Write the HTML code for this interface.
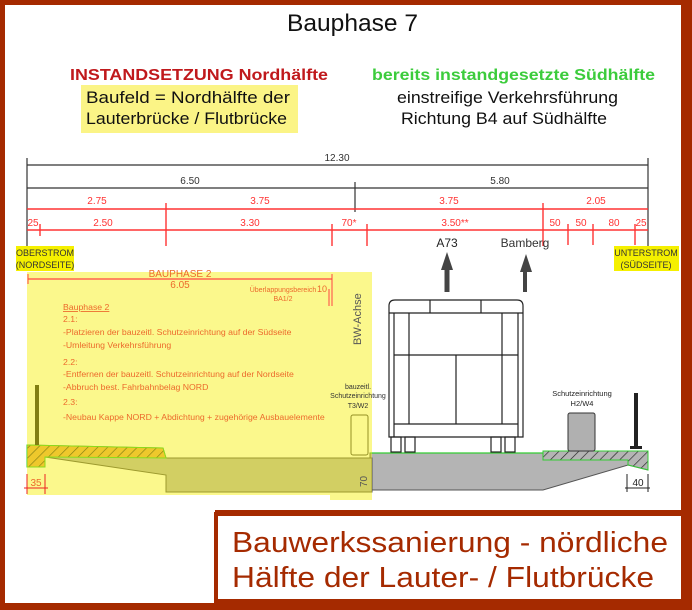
<!DOCTYPE html>
<html><head><meta charset="utf-8"><style>
html,body{margin:0;padding:0;background:#fff}
svg{display:block}
text{font-family:"Liberation Sans",sans-serif}
</style></head><body>
<svg width="692" height="610" viewBox="0 0 692 610" xmlns="http://www.w3.org/2000/svg">
<defs>
<pattern id="h" width="7" height="7" patternUnits="userSpaceOnUse" patternTransform="rotate(45)">
<line x1="0" y1="0" x2="0" y2="7" stroke="#222" stroke-width="1.3"/></pattern>
</defs>
<rect width="692" height="610" fill="#a52a00"/>
<rect x="5" y="5" width="676" height="505" fill="#fff"/>
<rect x="5" y="510" width="210" height="93" fill="#fff"/>
<!-- title -->
<text x="287" y="31" font-size="24" textLength="131" lengthAdjust="spacingAndGlyphs" fill="#111">Bauphase 7</text>
<text x="70" y="80" font-size="16" font-weight="bold" textLength="258" lengthAdjust="spacingAndGlyphs" fill="#c0191c">INSTANDSETZUNG Nordhälfte</text>
<rect x="81" y="85" width="217" height="48" fill="#fbf486"/>
<text x="86" y="103" font-size="16.5" textLength="204" lengthAdjust="spacingAndGlyphs" fill="#111">Baufeld  =  Nordhälfte der</text>
<text x="86" y="124" font-size="16.5" textLength="201" lengthAdjust="spacingAndGlyphs" fill="#111">Lauterbrücke / Flutbrücke</text>
<text x="372" y="80" font-size="16" font-weight="bold" textLength="283" lengthAdjust="spacingAndGlyphs" fill="#3ccc3c">bereits instandgesetzte Südhälfte</text>
<text x="397" y="103" font-size="16.5" textLength="221" lengthAdjust="spacingAndGlyphs" fill="#111">einstreifige Verkehrsführung</text>
<text x="401" y="124" font-size="16.5" textLength="206" lengthAdjust="spacingAndGlyphs" fill="#111">Richtung B4 auf Südhälfte</text>
<!-- dims black -->
<g stroke="#333" stroke-width="1.2">
<line x1="27" y1="165" x2="648" y2="165"/><line x1="27" y1="188" x2="648" y2="188"/>
<line x1="27" y1="158" x2="27" y2="246"/><line x1="648" y1="158" x2="648" y2="246"/>
<line x1="355" y1="182" x2="355" y2="212"/>
</g>
<g font-size="10" fill="#333" text-anchor="middle">
<text x="337" y="161">12.30</text><text x="190" y="184">6.50</text><text x="500" y="184">5.80</text>
</g>
<g stroke="#f33" stroke-width="1.4">
<line x1="27" y1="209" x2="648" y2="209"/><line x1="27" y1="230" x2="648" y2="230"/>
<line x1="166" y1="203" x2="166" y2="246"/><line x1="543" y1="203" x2="543" y2="246"/>
<line x1="40" y1="224" x2="40" y2="236"/><line x1="332" y1="224" x2="332" y2="246"/>
<line x1="367" y1="224" x2="367" y2="246"/><line x1="568" y1="224" x2="568" y2="245"/>
<line x1="593" y1="224" x2="593" y2="245"/><line x1="635" y1="224" x2="635" y2="245"/>
</g>
<g font-size="10" fill="#f33" text-anchor="middle">
<text x="97" y="204">2.75</text><text x="260" y="204">3.75</text><text x="449" y="204">3.75</text><text x="596" y="204">2.05</text>
<text x="33" y="226">25</text><text x="103" y="226">2.50</text><text x="250" y="226">3.30</text><text x="349" y="226">70*</text>
<text x="455" y="226">3.50**</text><text x="555" y="226">50</text><text x="581" y="226">50</text><text x="614" y="226">80</text><text x="641" y="226">25</text>
</g>
<rect x="16" y="246" width="58" height="25" fill="#f5f000"/>
<text x="45" y="256" font-size="9" text-anchor="middle" fill="#333">OBERSTROM</text>
<text x="45" y="268" font-size="9" text-anchor="middle" fill="#333">(NORDSEITE)</text>
<rect x="614" y="246" width="65" height="25" fill="#f5f000"/>
<text x="646" y="256" font-size="9" text-anchor="middle" fill="#333">UNTERSTROM</text>
<text x="646" y="268" font-size="9" text-anchor="middle" fill="#333">(SÜDSEITE)</text>
<!-- arrows -->
<text x="447" y="247" font-size="12" text-anchor="middle" fill="#222">A73</text>
<text x="525" y="247" font-size="12" text-anchor="middle" fill="#333">Bamberg</text>
<rect x="444.5" y="268" width="5" height="24" fill="#444"/><polygon points="441,270 447,252 453,270" fill="#444"/>
<rect x="523" y="268" width="4" height="24" fill="#444"/><polygon points="520,272 526,254 532,272" fill="#444"/>
<!-- right deck -->
<polygon points="370,453 543,453 543,451 648,451 648,470 628,465 543,490 370,490" fill="#b4b4b4" stroke="#555" stroke-width="1"/>
<polygon points="543,451 648,451 648,470 628,465 628,460 543,460" fill="url(#h)" stroke="#3c3" stroke-width="1"/>
<line x1="370" y1="453" x2="543" y2="453" stroke="#3c3" stroke-width="1.2"/>
<!-- bus -->
<g fill="none" stroke="#222" stroke-width="1.2">
<path d="M389,437 L389,306 Q389,300 395,300 L517,300 Q523,300 523,306 L523,437 Z" fill="#fff"/>
<line x1="389" y1="313" x2="523" y2="313"/><line x1="394" y1="313" x2="394" y2="437"/><line x1="518" y1="313" x2="518" y2="437"/>
<line x1="394" y1="355" x2="518" y2="355"/><line x1="394" y1="424" x2="518" y2="424"/>
<line x1="409" y1="313" x2="409" y2="424"/><line x1="456" y1="355" x2="456" y2="424"/><line x1="502" y1="313" x2="502" y2="424"/>
<line x1="430" y1="300" x2="430" y2="313"/><line x1="481" y1="300" x2="481" y2="313"/>
<rect x="391" y="437" width="10" height="15"/><rect x="405" y="437" width="10" height="15"/>
<rect x="491" y="437" width="10" height="15"/><rect x="505" y="437" width="10" height="15"/>
</g>
<!-- right barrier -->
<rect x="568" y="413" width="27" height="38" rx="2" fill="#b0b0b0" stroke="#333"/>
<text x="582" y="396" font-size="7.5" text-anchor="middle" fill="#222">Schutzeinrichtung</text>
<text x="582" y="406" font-size="7.5" text-anchor="middle" fill="#222">H2/W4</text>
<rect x="634" y="393" width="4" height="54" fill="#222"/><rect x="630" y="446" width="12" height="3" fill="#222"/>
<g stroke="#222"><line x1="627" y1="474" x2="627" y2="492"/><line x1="648" y1="474" x2="648" y2="492"/><line x1="625" y1="488" x2="650" y2="488"/></g>
<text x="638" y="486" font-size="10" text-anchor="middle" fill="#222">40</text>
<!-- left deck -->
<polygon points="27,445 163,448 166,458 372,458 372,492 166,492 166,475 45,457 45,467 27,467" fill="#b4b4b4" stroke="#555"/>
<polygon points="27,445 163,448 166,458 45,457 45,467 27,467" fill="#e8a850"/>
<polygon points="27,445 163,448 166,458 45,457 45,467 27,467" fill="url(#h)" stroke="#3c3"/>
<rect x="351" y="415" width="17" height="40" rx="2" fill="#fff" stroke="#444"/>
<rect x="35" y="385" width="4" height="60" fill="#222"/>
<!-- yellow overlay -->
<polygon points="27,272 372,272 372,500 330,500 330,495 27,495" fill="#f6f000" fill-opacity="0.45"/>
<line x1="28" y1="279" x2="332" y2="279" stroke="#f44" stroke-width="1.2"/>
<line x1="28" y1="274" x2="28" y2="284" stroke="#f44"/><line x1="332" y1="274" x2="332" y2="306" stroke="#f44"/><line x1="329" y1="289" x2="329" y2="306" stroke="#f44"/>
<g fill="#ec6a2c">
<text x="180" y="277" font-size="10" text-anchor="middle">BAUPHASE 2</text>
<text x="180" y="288" font-size="10" text-anchor="middle">6.05</text>
<text x="283" y="292" font-size="7" text-anchor="middle">Überlappungsbereich</text><text x="322" y="292" font-size="9" text-anchor="middle">10</text>
<text x="283" y="301" font-size="7" text-anchor="middle">BA1/2</text>
<g font-size="8.7">
<text x="63" y="310" text-decoration="underline">Bauphase 2</text>
<text x="63" y="322">2.1:</text>
<text x="63" y="335">-Platzieren der bauzeitl. Schutzeinrichtung auf der Südseite</text>
<text x="63" y="348">-Umleitung Verkehrsführung</text>
<text x="63" y="365">2.2:</text>
<text x="63" y="377">-Entfernen der bauzeitl. Schutzeinrichtung auf der Nordseite</text>
<text x="63" y="390">-Abbruch best. Fahrbahnbelag NORD</text>
<text x="63" y="405">2.3:</text>
<text x="63" y="420">-Neubau Kappe NORD + Abdichtung + zugehörige Ausbauelemente</text>
</g></g>
<text transform="translate(361,345) rotate(-90)" font-size="11" fill="#555">BW-Achse</text>
<g font-size="7" fill="#333" text-anchor="middle"><text x="358" y="389">bauzeitl.</text><text x="358" y="398">Schutzeinrichtung</text><text x="358" y="408">T3/W2</text></g>
<g stroke="#e22"><line x1="27" y1="474" x2="27" y2="494"/><line x1="45" y1="474" x2="45" y2="494"/><line x1="24" y1="488" x2="48" y2="488"/></g>
<text x="36" y="486" font-size="10" text-anchor="middle" fill="#ec6a2c">35</text>
<text transform="translate(367,487) rotate(-90)" font-size="10" fill="#555">70</text>
<!-- caption -->
<rect x="214" y="512" width="472" height="91" fill="#a52a00"/>
<rect x="218" y="516" width="463" height="83" fill="#fff"/>
<text x="232" y="552" font-size="29" textLength="436" lengthAdjust="spacingAndGlyphs" fill="#a52a00">Bauwerkssanierung - nördliche</text>
<text x="232" y="587" font-size="29" textLength="422" lengthAdjust="spacingAndGlyphs" fill="#a52a00">Hälfte der Lauter- / Flutbrücke</text>
</svg>
</body></html>
